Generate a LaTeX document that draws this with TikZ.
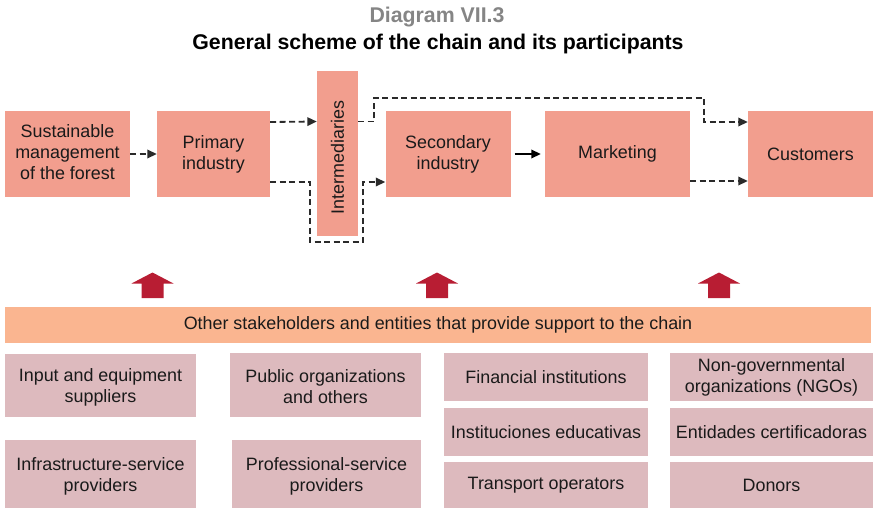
\documentclass[tikz,border=0pt]{standalone}
\usepackage{fontspec}
\setmainfont{Liberation Sans}
\usetikzlibrary{arrows.meta}
\definecolor{topc}{HTML}{F29E8E}
\definecolor{barc}{HTML}{FAB590}
\definecolor{botc}{HTML}{DDBABE}
\definecolor{redc}{HTML}{B81D33}
\definecolor{txtc}{HTML}{1A1A1A}
\definecolor{greyc}{HTML}{858585}
\definecolor{linec}{HTML}{2A2A2A}
\newcommand\bodyfont{\fontsize{17.9}{21}\selectfont}
\newcommand\titlefont{\fontsize{21.3}{24}\selectfont\bfseries}
\tikzset{
  box/.style={fill=#1, text=txtc, align=center, inner sep=0pt, font=\bodyfont},
  topbox/.style={box=topc},
  botbox/.style={box=botc},
  dasharrow/.style={draw=linec, line width=1.8pt, dash pattern=on 6pt off 3.5pt, -{Triangle[length=9.5pt,width=8.5pt]}},
  solidarrow/.style={draw=black, line width=1.8pt, -{Triangle[length=9.5pt,width=8.5pt]}}
}
\begin{document}
\begin{tikzpicture}[x=1pt,y=-1pt]
\useasboundingbox (0,0) rectangle (873,509);
% titles
\node[text=greyc, font=\titlefont] (t1) at (437,17) {Diagram VII.3};
\node[text=black, font=\titlefont] (t2) at (438,44) {General scheme of the chain and its participants};
% top row
\node[topbox, minimum width=125pt, minimum height=86pt] (sus) at (67.5,154) {Sustainable\\management\\of the forest\\[-17pt]};
\node[topbox, minimum width=113pt, minimum height=86pt] (prim) at (213.5,154) {Primary\\industry};
\node[topbox, minimum width=41pt, minimum height=165pt] (inter) at (337.5,153.5) {};
\node[text=txtc, font=\bodyfont, rotate=90, inner sep=0pt] (interlbl) at ([yshift=-4pt]inter.center) {Intermediaries};
\node[topbox, minimum width=125pt, minimum height=86pt] (sec) at (448,154) {Secondary\\industry};
\node[topbox, minimum width=145pt, minimum height=86pt] (mkt) at (617.5,154) {Marketing};
\node[topbox, minimum width=125pt, minimum height=86pt] (cust) at (810.5,154) {Customers};
% connectors
\draw[dasharrow] (sus.east) -- (prim.west);
\draw[dasharrow] ([yshift=32pt]prim.east) -- ([yshift=32pt]inter.west);
\draw[dasharrow] ([yshift=-28pt]prim.east) -- (310,182) -- (310,242) -- (363,242) -- (363,182) -- ([yshift=-28pt]sec.west);
\draw[dasharrow] ([yshift=32pt]inter.east) -- (374,121.5) -- (374,98) -- (704,98) -- (704,122) -- ([yshift=32pt]cust.west);
\draw[dasharrow] ([yshift=-27pt]mkt.east) -- ([yshift=-27pt]cust.west);
\draw[solidarrow, shorten <=4pt, shorten >=4pt] (sec.east) -- (mkt.west);
% red up arrows
\foreach \c in {152.5,437,719}{
  \fill[redc] (\c-21,283.5) -- (\c,272.5) -- (\c+21,283.5) -- (\c+11,283.5) -- (\c+11,298) -- (\c-11,298) -- (\c-11,283.5) -- cycle;
}
% bar
\node[box=barc, minimum width=866pt, minimum height=36pt] (bar) at (438,325) {Other stakeholders and entities that provide support to the chain};
% bottom boxes
\node[botbox, minimum width=191pt, minimum height=63pt] (inp) at (100.5,385.5) {\\[-4pt]Input and equipment\\suppliers};
\node[botbox, minimum width=191pt, minimum height=64pt] (pub) at (325.5,385) {\\[-4pt]Public organizations\\and others};
\node[botbox, minimum width=191pt, minimum height=68pt] (infra) at (100.5,474) {\\[-4pt]Infrastructure-service\\providers};
\node[botbox, minimum width=189pt, minimum height=68pt] (prof) at (326.5,474) {\\[-4pt]Professional-service\\providers};
\node[botbox, minimum width=204pt, minimum height=48pt] (fin) at (546,377) {Financial institutions};
\node[botbox, minimum width=204pt, minimum height=48pt] (edu) at (546,432) {Instituciones educativas};
\node[botbox, minimum width=204pt, minimum height=46pt] (trans) at (546,485) {Transport operators};
\node[botbox, minimum width=203pt, minimum height=48pt] (ngo) at (771.5,377) {Non-governmental\\organizations (NGOs)};
\node[botbox, minimum width=203pt, minimum height=48pt] (cert) at (771.5,432) {Entidades certificadoras};
\node[botbox, minimum width=203pt, minimum height=46pt] (don) at (771.5,485) {Donors};
\end{tikzpicture}
\end{document}
